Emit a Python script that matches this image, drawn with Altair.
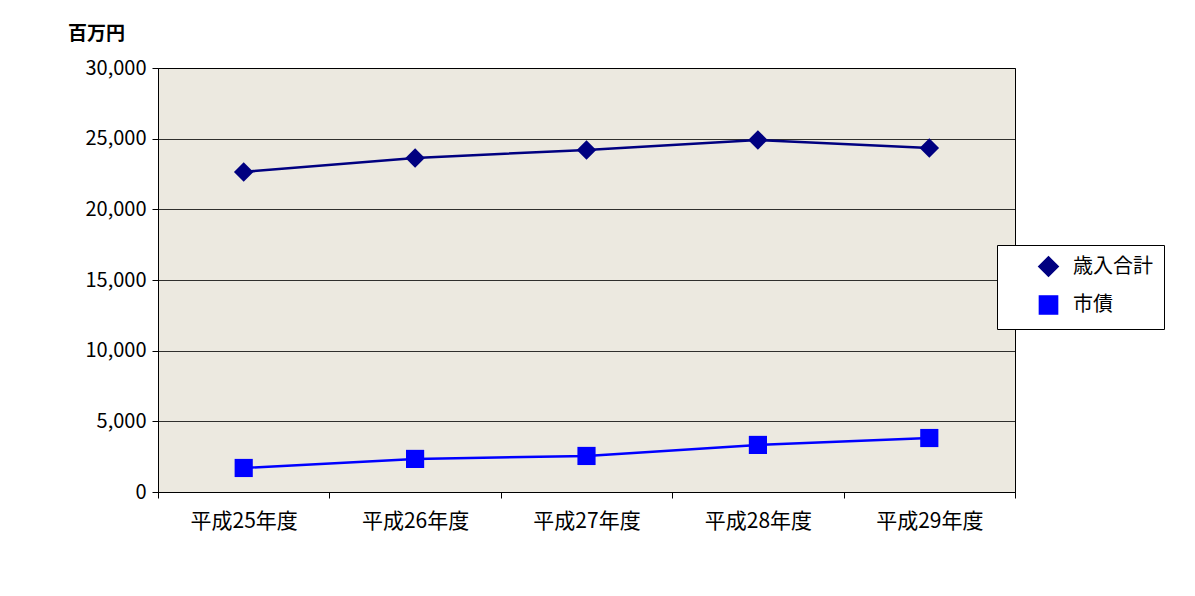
import altair as alt
import pandas as pd

years = ["平成25年度", "平成26年度", "平成27年度", "平成28年度", "平成29年度"]
total = [22650, 23640, 24200, 24910, 24340]
bonds = [1700, 2340, 2550, 3330, 3820]
series_names = ["歳入合計", "市債"]

rows = []
for y, t, b in zip(years, total, bonds):
    rows.append({"year": y, "value": t, "series": series_names[0]})
    rows.append({"year": y, "value": b, "series": series_names[1]})
df = pd.DataFrame(rows)

font = "Noto Sans CJK JP"
color = alt.Color("series:N", sort=series_names,
                  scale=alt.Scale(domain=series_names, range=["#000080", "#0000FF"]),
                  legend=alt.Legend(title=None, orient="none", legendX=839, legendY=177,
                                    labelFont=font, labelFontSize=20, labelColor="#000",
                                    strokeColor="#000", padding=11, symbolSize=260,
                                    symbolOffset=30, labelOffset=14,
                                    rowPadding=12, fillColor="white", labelLimit=200))
x = alt.X("year:N", sort=years, scale=alt.Scale(paddingInner=0, paddingOuter=0),
          axis=alt.Axis(title=None, labelAngle=0, labelFont=font, labelFontSize=21,
                        labelColor="#000", tickBand="extent", tickColor="#000", tickSize=6,
                        domainColor="#000", labelPadding=12, grid=False))
y = alt.Y("value:Q", scale=alt.Scale(domain=[0, 30000]),
          axis=alt.Axis(title="百万円", titleAngle=0, titleX=-62, titleY=-25, titleAlign="center",
                        titleFont=font, titleFontSize=19, titleFontWeight="bold", titleColor="#000",
                        format=",d", values=[0, 5000, 10000, 15000, 20000, 25000, 30000],
                        labelFont=font, labelFontSize=20, labelColor="#000",
                        tickColor="#000", tickSize=6, domainColor="#000",
                        gridColor="#000", gridOpacity=0.8, labelPadding=6))

base = alt.Chart(df).encode(x=x, y=y, color=color)
line = base.mark_line(strokeWidth=2.5)
pts = base.mark_point(filled=True, opacity=1).encode(
    shape=alt.Shape("series:N", sort=series_names,
                    scale=alt.Scale(domain=series_names, range=["diamond", "square"]), legend=None),
    size=alt.Size("series:N", scale=alt.Scale(domain=series_names, range=[380, 330]), legend=None))

chart = (line + pts).properties(
    width=857, height=424, background="white",
    autosize=alt.AutoSizeParams(type="none"),
    padding={"left": 150, "top": 60, "right": 172, "bottom": 96},
).configure_view(fill="#ECE9E0", stroke="#000", strokeWidth=1)

chart.save("out.html", embed_options={"renderer": "svg", "actions": False})
